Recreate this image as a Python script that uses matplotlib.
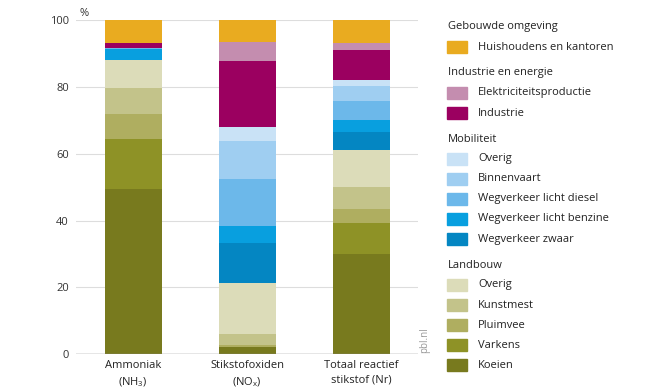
import numpy as np
import matplotlib.pyplot as plt
from matplotlib.patches import Rectangle

plt.rcParams['font.family'] = ['Open Sans', 'DejaVu Sans']
plt.rcParams['mathtext.default'] = 'regular'

# categorieën (x-as)
bars = ['Ammoniak\n(NH$_3$)', 'Stikstofoxiden\n(NO$_x$)', 'Totaal reactief\nstikstof (Nr)']

# bronnen, van onder naar boven gestapeld
bronnen = ['Koeien', 'Varkens', 'Pluimvee', 'Kunstmest', 'Overig (landbouw)',
           'Wegverkeer zwaar', 'Wegverkeer licht benzine', 'Wegverkeer licht diesel',
           'Binnenvaart', 'Overig (mobiliteit)', 'Industrie', 'Elektriciteitsproductie',
           'Huishoudens en kantoren']
kleuren = ['#787A1E', '#8E9226', '#AFAE60', '#C3C38A', '#DCDCB9',
           '#0486C2', '#089FDF', '#6CB8EA', '#9FCEF1', '#C9E2F6',
           '#9B0060', '#C48DAF', '#E9AB20']

# percentages per categorie
koeien      = [49.3, 2.2, 30.0]
varkens     = [15.2, 0.0, 9.3]
pluimvee    = [7.4, 0.6, 4.3]
kunstmest   = [7.8, 3.2, 6.4]
overig_lb   = [8.5, 15.3, 11.2]
zwaar       = [0.0, 12.0, 5.2]
benzine     = [3.2, 5.1, 3.8]
diesel      = [0.4, 14.0, 5.6]
binnenvaart = [0.0, 11.4, 4.5]
overig_mob  = [0.0, 4.2, 1.8]
industrie   = [1.5, 19.8, 9.0]
elektr      = [0.0, 5.6, 2.2]
huish       = [6.7, 6.6, 6.8]

waarden = [koeien, varkens, pluimvee, kunstmest, overig_lb, zwaar, benzine,
           diesel, binnenvaart, overig_mob, industrie, elektr, huish]

# legenda-indeling
legenda = [
    ('Gebouwde omgeving', [('Huishoudens en kantoren', 12)]),
    ('Industrie en energie', [('Elektriciteitsproductie', 11), ('Industrie', 10)]),
    ('Mobiliteit', [('Overig', 9), ('Binnenvaart', 8), ('Wegverkeer licht diesel', 7),
                    ('Wegverkeer licht benzine', 6), ('Wegverkeer zwaar', 5)]),
    ('Landbouw', [('Overig', 4), ('Kunstmest', 3), ('Pluimvee', 2), ('Varkens', 1),
                  ('Koeien', 0)]),
]

W, H = 650, 390
fig = plt.figure(figsize=(6.5, 3.9), dpi=100)
ax = fig.add_axes([76 / W, 36 / H, (418 - 76) / W, (354 - 20.3) / H])

x = np.arange(len(bars))
bottom = np.zeros(len(bars))
for vals, kl in zip(waarden, kleuren):
    vals = np.array(vals)
    ax.bar(x, vals, width=0.5, bottom=bottom, color=kl, zorder=2)
    bottom += vals

ax.set_xlim(-0.5, 2.5)
ax.set_ylim(0, 100)
ax.set_yticks(np.arange(0, 101, 20))
ax.set_xticks(x)
ax.set_xticklabels(bars, fontsize=8, color='#222222', linespacing=1.5)
ax.tick_params(axis='y', length=0, labelsize=8, labelcolor='#333333', pad=5)
ax.tick_params(axis='x', length=0, pad=4)
ax.grid(axis='y', color='#DDDDDD', lw=0.8, zorder=0)
for s in ax.spines.values():
    s.set_visible(False)
ax.axhline(0, color='#888888', lw=1.0, zorder=3)

fig.text(79 / W, 1 - 16 / H, '%', fontsize=8, color='#333333')
fig.text(425 / W, 1 - 340 / H, 'pbl.nl', fontsize=7, color='#999999',
         rotation=90, ha='center', va='center')

# legenda tekenen
y = 27
for kop, items in legenda:
    fig.text(448 / W, 1 - y / H, kop, fontsize=8, color='#222222', va='center')
    y += 20
    for naam, idx in items:
        fig.patches.append(Rectangle((447 / W, 1 - (y + 6) / H), 20 / W, 12 / H,
                                     transform=fig.transFigure, color=kleuren[idx]))
        fig.text(478 / W, 1 - y / H, naam, fontsize=8, color='#222222', va='center')
        y += 20
    y += 6

fig.savefig('out.png', dpi=100)
